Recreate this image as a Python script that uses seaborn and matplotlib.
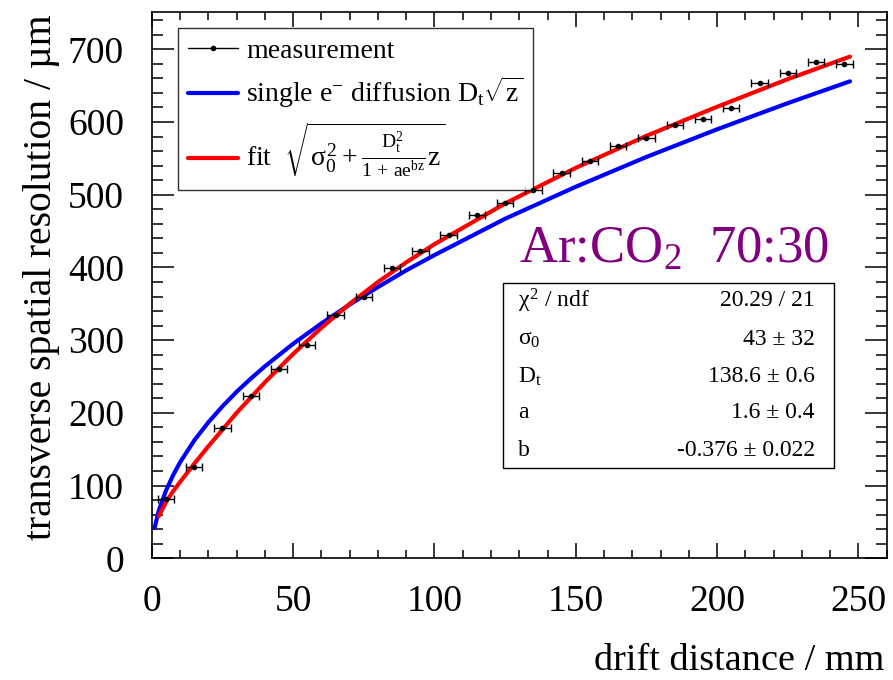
import numpy as np
import matplotlib
matplotlib.use("Agg")
import matplotlib.pyplot as plt
from matplotlib.lines import Line2D
from matplotlib.patches import Rectangle
from matplotlib.ticker import MultipleLocator
import seaborn as sns

# measured points (drift distance in mm, resolution in um)
meas_z = [5, 15, 25, 35, 45, 55, 65, 75, 85, 95, 105, 115, 125,
          135, 145, 155, 165, 175, 185, 195, 205, 215, 225, 235, 245]
meas_y = [81, 125, 179, 223, 260, 294, 334, 360, 399, 422, 444, 472, 488,
          506, 530, 546, 567, 578, 596, 604, 619, 653, 667, 682, 680]
meas_zerr = 2.9

# fit curve
fit_z = [2.5, 5, 7.5, 10, 15, 20, 25, 30, 35, 40, 50, 60, 70, 80, 90,
         100, 125, 150, 175, 200, 225, 247]
fit_y = [58, 77, 92, 105, 130, 154, 177, 200, 221, 242, 281, 317, 350, 380, 407,
         432, 488, 537, 581, 621, 659, 690]

# single electron diffusion curve
diff_z = [1, 2.5, 5, 7.5, 10, 15, 20, 25, 30, 35, 40, 50, 60, 70, 80, 90,
          100, 125, 150, 175, 200, 225, 247]
diff_y = [42, 66, 93, 114, 132, 162, 187, 209, 229, 247, 264, 295, 323, 349, 373, 396,
          417, 467, 511, 552, 590, 626, 656]

stat_names = [r"$\chi^{2}$ / ndf", r"$\sigma_{0}$", r"D$_{\mathrm{t}}$", "a", "b"]
stat_vals = ["20.29 / 21", "43 ± 32", "138.6 ± 0.6", "1.6 ± 0.4", "-0.376 ± 0.022"]

sns.set_theme(style="ticks")
plt.rcParams["font.family"] = ["Liberation Serif", "DejaVu Serif"]
plt.rcParams["mathtext.fontset"] = "custom"
plt.rcParams["mathtext.rm"] = "Liberation Serif"
plt.rcParams["mathtext.it"] = "Liberation Serif"
plt.rcParams["mathtext.bf"] = "Liberation Serif:bold"
for k in ["text.color", "axes.labelcolor", "xtick.color", "ytick.color", "axes.edgecolor"]:
    plt.rcParams[k] = "black"

fig = plt.figure(figsize=(8.93, 6.8), dpi=100)
ax = fig.add_axes([0.170, 0.179, 0.823, 0.803])

sns.lineplot(x=diff_z, y=diff_y, color="#0000ff", lw=3, ax=ax)
sns.lineplot(x=fit_z, y=fit_y, color="#ff0000", lw=3, ax=ax)
ax.errorbar(meas_z, meas_y, xerr=meas_zerr, fmt="o", ms=3, color="black",
            ecolor="black", elinewidth=1, capsize=3, capthick=1, zorder=5)

ax.set_xlim(0, 260)
ax.set_ylim(0, 751)
ax.xaxis.set_major_locator(MultipleLocator(50))
ax.xaxis.set_minor_locator(MultipleLocator(10))
ax.yaxis.set_major_locator(MultipleLocator(100))
ax.yaxis.set_minor_locator(MultipleLocator(20))
ax.tick_params(axis="both", which="both", direction="in", top=True, right=True,
               labelsize=27, width=1.1, color="black")
ax.tick_params(axis="x", which="major", length=11, pad=19)
ax.tick_params(axis="x", which="minor", length=6)
ax.tick_params(axis="y", which="major", length=16, pad=20)
ax.tick_params(axis="y", which="minor", length=8)
for s in ax.spines.values():
    s.set_linewidth(1.2)
    s.set_color("black")

ax.set_xlabel("drift distance / mm", fontsize=27.5, loc="right")
ax.xaxis.set_label_coords(0.997, -0.188)
ax.xaxis.label.set_va("center")
ax.set_ylabel("transverse spatial resolution / µm", fontsize=28.5, loc="top")
ax.yaxis.set_label_coords(-0.150, 0.996)
ax.yaxis.label.set_va("center")

handles = [
    Line2D([], [], color="black", lw=1, marker="o", ms=3),
    Line2D([], [], color="#0000ff", lw=3),
    Line2D([], [], color="#ff0000", lw=3),
]
labels = [
    "measurement",
    r"single e$^{\mathrm{-}}$ diffusion D$_{\mathrm{t}}\sqrt{\mathrm{z}}$",
    r"fit  $\sqrt{\sigma_{0}^{2}+\frac{\mathrm{D}_{\mathrm{t}}^{2}}{1\,+\,\mathrm{ae}^{\mathrm{bz}}}\mathrm{z}}$",
]
leg = ax.legend(handles, labels, loc="upper left", bbox_to_anchor=(0.035, 0.971),
                borderaxespad=0, fontsize=20, frameon=True, fancybox=False,
                handlelength=1.8, handletextpad=0.3, labelspacing=0.4, borderpad=0.36)
leg.get_frame().set_edgecolor("black")
leg.get_frame().set_linewidth(1)

ax.text(0.50, 0.542, r"Ar:CO$_{2}$  70:30", transform=ax.transAxes,
        fontsize=38, color="#800080", ha="left", va="baseline")

ax.add_patch(Rectangle((0.478, 0.165), 0.450, 0.340, transform=ax.transAxes,
                       fill=True, facecolor="white", edgecolor="black", lw=1, zorder=6))
row_y = [0.472, 0.400, 0.333, 0.267, 0.198]
for yy, n, v in zip(row_y, stat_names, stat_vals):
    ax.text(0.498, yy, n, transform=ax.transAxes, fontsize=17, ha="left", va="center", zorder=7)
    ax.text(0.902, yy, v, transform=ax.transAxes, fontsize=17, ha="right", va="center", zorder=7)

fig.savefig("out.png", dpi=100)
